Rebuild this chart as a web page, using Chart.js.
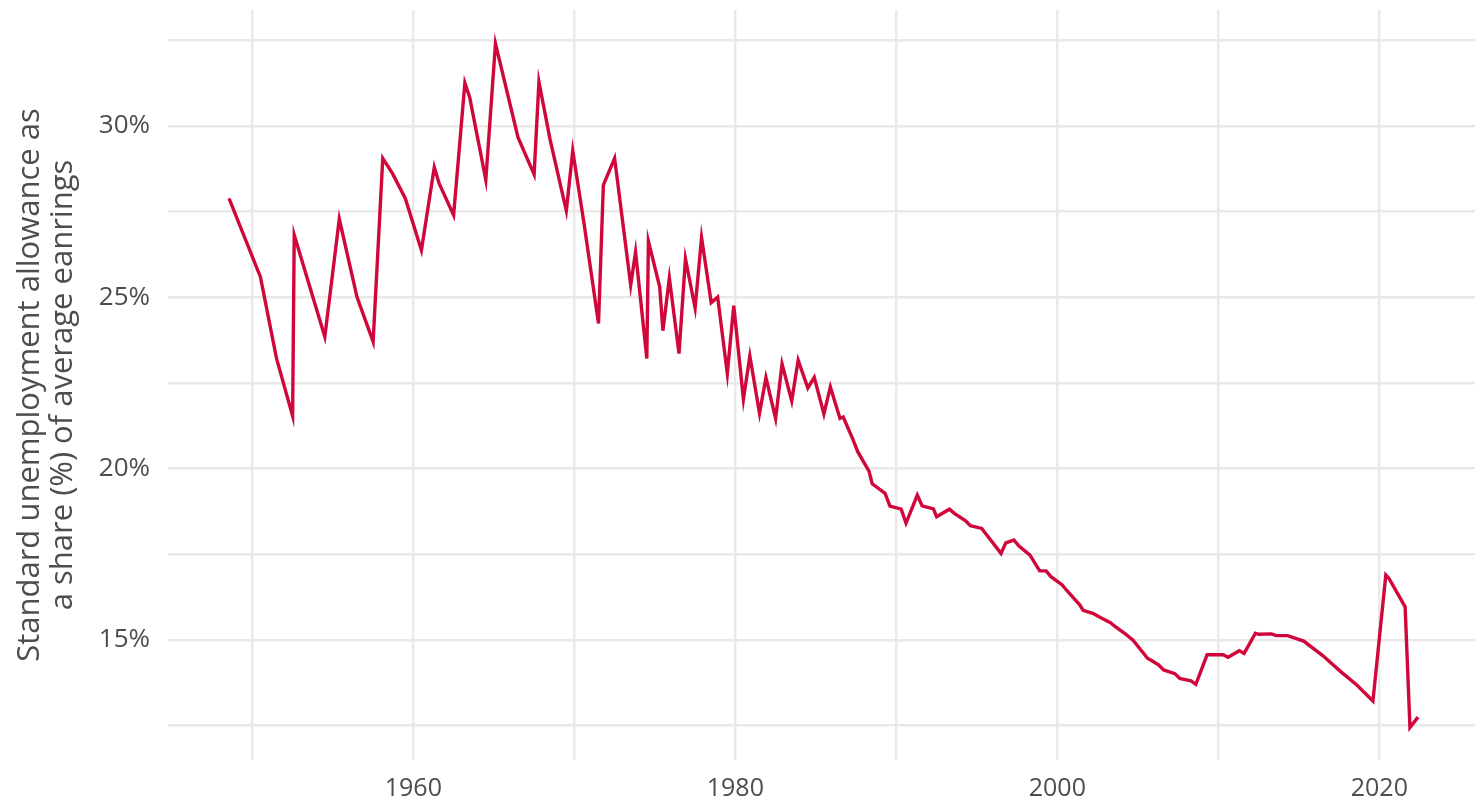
<!DOCTYPE html>
<html>
<head>
<meta charset="utf-8">
<script src="https://cdn.jsdelivr.net/npm/chart.js@4"></script>
<style>
  html, body { margin:0; padding:0; background:#fff; }
  #wrap { width:1483px; height:803px; position:relative; }
</style>
</head>
<body>
<div id="wrap"><canvas id="chart"></canvas></div>
<script>
// years (fractional) and allowance share in %
const years = [
  1948.55, 1950.5, 1951.5, 1952.5, 1952.6, 1954.5, 1955.4, 1956.5, 1957.5, 1958.1,
  1958.7, 1959.5, 1960.5, 1961.3, 1961.6, 1962.5, 1963.2, 1963.5, 1964.5, 1965.1,
  1966.5, 1967.5, 1967.8, 1968.5, 1969.5, 1969.9, 1970.6, 1971.5, 1971.8, 1972.5,
  1973.5, 1973.8, 1974.5, 1974.6, 1975.3, 1975.5, 1975.9, 1976.5, 1976.9, 1977.5,
  1977.9, 1978.5, 1978.9, 1979.5, 1979.9, 1980.5, 1980.9, 1981.5, 1981.9, 1982.5,
  1982.9, 1983.5, 1983.9, 1984.5, 1984.9, 1985.5, 1985.9, 1986.5, 1986.7, 1987.3,
  1987.6, 1988.3, 1988.5, 1989.3, 1989.6, 1990.3, 1990.6, 1991.3, 1991.6, 1992.3,
  1992.5, 1993.3, 1993.6, 1994.3, 1994.6, 1995.3, 1996.5, 1996.8, 1997.3, 1997.6,
  1998.3, 1998.9, 1999.3, 1999.6, 2000.3, 2000.6, 2001.4, 2001.6, 2002.2, 2002.7,
  2003.3, 2003.6, 2004.2, 2004.7, 2005.6, 2005.9, 2006.3, 2006.6, 2007.3, 2007.6,
  2008.3, 2008.6, 2009.3, 2010.3, 2010.6, 2011.3, 2011.6, 2012.3, 2012.5, 2013.3,
  2013.6, 2014.3, 2015.3, 2016.5, 2017.6, 2018.6, 2019.6, 2020.4, 2020.6, 2021.6,
  2021.9, 2022.4
];
const shares = [
  27.88, 25.59, 23.21, 21.53, 26.81, 23.84, 27.28, 25.00, 23.70, 29.05,
  28.61, 27.88, 26.37, 28.79, 28.32, 27.39, 31.25, 30.83, 28.42, 32.40,
  29.66, 28.58, 31.28, 29.58, 27.52, 29.27, 27.15, 24.23, 28.27, 29.05,
  25.35, 26.32, 23.21, 26.63, 25.30, 24.02, 25.56, 23.35, 26.12, 24.68,
  26.74, 24.84, 25.00, 22.77, 24.75, 22.02, 23.28, 21.61, 22.65, 21.46,
  23.05, 21.97, 23.16, 22.35, 22.66, 21.59, 22.38, 21.46, 21.50, 20.85,
  20.49, 19.92, 19.55, 19.27, 18.90, 18.81, 18.40, 19.22, 18.91, 18.82,
  18.59, 18.81, 18.69, 18.47, 18.33, 18.25, 17.52, 17.83, 17.91, 17.74,
  17.47, 17.01, 17.01, 16.84, 16.60, 16.43, 16.01, 15.86, 15.77, 15.64,
  15.50, 15.38, 15.18, 14.99, 14.46, 14.38, 14.26, 14.12, 14.01, 13.87,
  13.80, 13.70, 14.56, 14.56, 14.49, 14.68, 14.60, 15.19, 15.16, 15.17,
  15.12, 15.12, 14.96, 14.53, 14.07, 13.68, 13.21, 16.89, 16.79, 15.96,
  12.44, 12.74
];

// grid lines and which of them get a label
const xGrid = [1950, 1960, 1970, 1980, 1990, 2000, 2010, 2020];
const xLabels = [1960, 1980, 2000, 2020];
const yGrid = [12.5, 15, 17.5, 20, 22.5, 25, 27.5, 30, 32.5];
const yLabels = [15, 20, 25, 30];

const yTitle = ["Standard unemployment allowance as", "a share (%) of average eanrings"];

const FONT = "'Open Sans', 'Noto Sans', sans-serif";
const GREY = "#4d4d4d";
const GRID = "#e9e9e9";

const points = years.map((x, i) => ({ x, y: shares[i] }));

new Chart(document.getElementById("chart"), {
  type: "line",
  data: {
    datasets: [{
      data: points,
      borderColor: "#d0073b",
      borderWidth: 3.4,
      pointRadius: 0,
      tension: 0,
      fill: false
    }]
  },
  options: {
    responsive: true,
    maintainAspectRatio: false,
    animation: false,
    layout: { padding: { top: 10, right: 8, left: 0, bottom: 0 } },
    plugins: { legend: { display: false }, tooltip: { enabled: false } },
    scales: {
      x: {
        type: "linear",
        min: 1944.76,
        max: 2025.94,
        border: { display: false },
        grid: { color: GRID, lineWidth: 2.4, drawTicks: false },
        afterBuildTicks: (s) => { s.ticks = xGrid.map(v => ({ value: v })); },
        afterFit: (s) => { s.height = 43; s.paddingLeft = 0; s.paddingRight = 0; },
        ticks: {
          autoSkip: false,
          maxRotation: 0,
          padding: 14,
          color: GREY,
          font: { family: FONT, size: 25 },
          callback: (v) => xLabels.includes(v) ? String(v) : ""
        }
      },
      y: {
        type: "linear",
        min: 11.49,
        max: 33.38,
        border: { display: false },
        grid: { color: GRID, lineWidth: 2.4, drawTicks: false },
        afterBuildTicks: (s) => { s.ticks = yGrid.map(v => ({ value: v })); },
        afterFit: (s) => { s.width = 168; s.paddingTop = 0; s.paddingBottom = 0; },
        ticks: {
          autoSkip: false,
          padding: 18,
          color: GREY,
          font: { family: FONT, size: 26 },
          callback: (v) => yLabels.includes(v) ? v + "%" : ""
        },
        title: {
          display: true,
          text: yTitle,
          color: GREY,
          font: { family: FONT, size: 31, lineHeight: 1.05 },
          padding: { top: 14, bottom: 0 }
        }
      }
    }
  }
});
</script>
</body>
</html>
